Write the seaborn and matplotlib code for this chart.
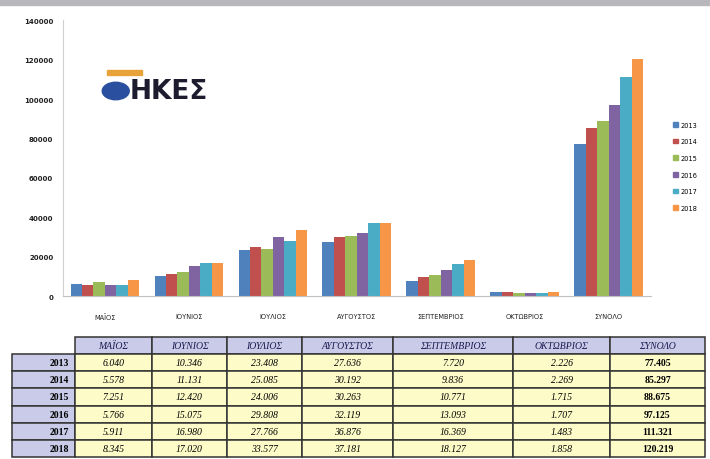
import pandas as pd
import seaborn as sns
import matplotlib.pyplot as plt
from matplotlib.patches import Rectangle, Circle

# Δεδομένα
mhnes = ['ΜΑΪΟΣ', 'ΙΟΥΝΙΟΣ', 'ΙΟΥΛΙΟΣ', 'ΑΥΓΟΥΣΤΟΣ', 'ΣΕΠΤΕΜΒΡΙΟΣ', 'ΟΚΤΩΒΡΙΟΣ', 'ΣΥΝΟΛΟ']
eth = ['2013', '2014', '2015', '2016', '2017', '2018']
v2013 = [6040, 10346, 23408, 27636, 7720, 2226, 77405]
v2014 = [5578, 11131, 25085, 30192, 9836, 2269, 85297]
v2015 = [7251, 12420, 24006, 30263, 10771, 1715, 88675]
v2016 = [5766, 15075, 29808, 32119, 13093, 1707, 97125]
v2017 = [5911, 16980, 27766, 36876, 16369, 1483, 111321]
v2018 = [8345, 17020, 33577, 37181, 18127, 1858, 120219]
xrwmata = ['#4F81BD', '#C0504D', '#9BBB59', '#8064A2', '#4BACC6', '#F79646']

times = [v2013, v2014, v2015, v2016, v2017, v2018]
df = pd.DataFrame([(m, e, t[i]) for e, t in zip(eth, times) for i, m in enumerate(mhnes)],
                  columns=['mhnas', 'etos', 'timh'])

plt.rcParams['font.family'] = ['DejaVu Sans']
fig = plt.figure(figsize=(7.1, 4.6), dpi=100)

# γκρι λωρίδα πάνω
fig.patches.append(Rectangle((0, 0.988), 1, 0.012, transform=fig.transFigure, color='#b8b8bc'))

ax = fig.add_axes([0.0887, 0.354, 0.828, 0.6])
sns.barplot(data=df, x='mhnas', y='timh', hue='etos', palette=xrwmata, width=0.82,
            saturation=1, ax=ax, legend=False)
ax.set_ylim(0, 140000)
ax.set_yticks(range(0, 140001, 20000))
ax.set_yticklabels([str(t) for t in range(0, 140001, 20000)], fontsize=5, color='#222222',
                   fontweight='bold')
ax.set_xticks(range(len(mhnes)))
ax.set_xticklabels(mhnes, fontsize=4.8, color='#222222')
ax.set_xlabel('')
ax.set_ylabel('')
ax.tick_params(axis='y', length=0, pad=7)
ax.tick_params(axis='x', length=0, pad=12)
for s in ['top', 'right']:
    ax.spines[s].set_visible(False)
ax.spines['left'].set_color('#d0d0d0')
ax.spines['bottom'].set_color('#c0c0c0')

# υπόμνημα
hs = [Rectangle((0, 0), 1, 1, color=c) for c in xrwmata]
fig.legend(hs, eth, loc='center', bbox_to_anchor=(0.965, 0.636), frameon=False,
           fontsize=4.8, handlelength=0.7, handleheight=0.7, labelspacing=1.6, handletextpad=0.4)

# λογότυπο
fig.patches.append(Circle((0.163, 0.80), 0.019, transform=fig.transFigure, color='#2a4f9e'))
fig.patches.append(Rectangle((0.15, 0.835), 0.05, 0.01, transform=fig.transFigure, color='#e8a23a'))
fig.text(0.183, 0.80, 'ΗΚΕΣ', fontsize=19, fontweight='bold', color='#1c1c2e', va='center')

# πίνακας
tax = fig.add_axes([0.017, 0.004, 0.976, 0.262])
tax.axis('off')
cell = [[''] + mhnes]
for e, t in zip(eth, times):
    cell.append([e] + [f'{v:,}'.replace(',', '.') for v in t])
tab = tax.table(cellText=cell, bbox=[0, 0, 1, 1], cellLoc='center')
plates = [63, 77, 75, 75, 91, 120, 97, 95]
sw = sum(plates)
for (r, c), cl in tab.get_celld().items():
    cl.set_width(plates[c] / sw)
    cl.set_linewidth(1.1)
    cl.set_edgecolor('#333333')
    txt = cl.get_text()
    txt.set_fontfamily('Liberation Serif')
    txt.set_fontsize(7)
    if r == 0 and c == 0:
        cl.set_facecolor('white')
        cl.set_edgecolor('white')
    elif r == 0:
        cl.set_facecolor('#c9cbe8')
        txt.set_fontstyle('italic')
        txt.set_color('#1a1a50')
    elif c == 0:
        cl.set_facecolor('#c9cbe8')
        txt.set_fontweight('bold')
        txt.set_ha('right')
        cl._loc = 'right'
    else:
        cl.set_facecolor('#fdfbc8')
        if c == 7:
            txt.set_fontweight('bold')
        else:
            txt.set_fontstyle('italic')
tab.auto_set_font_size(False)

fig.savefig('out.png', dpi=100)
